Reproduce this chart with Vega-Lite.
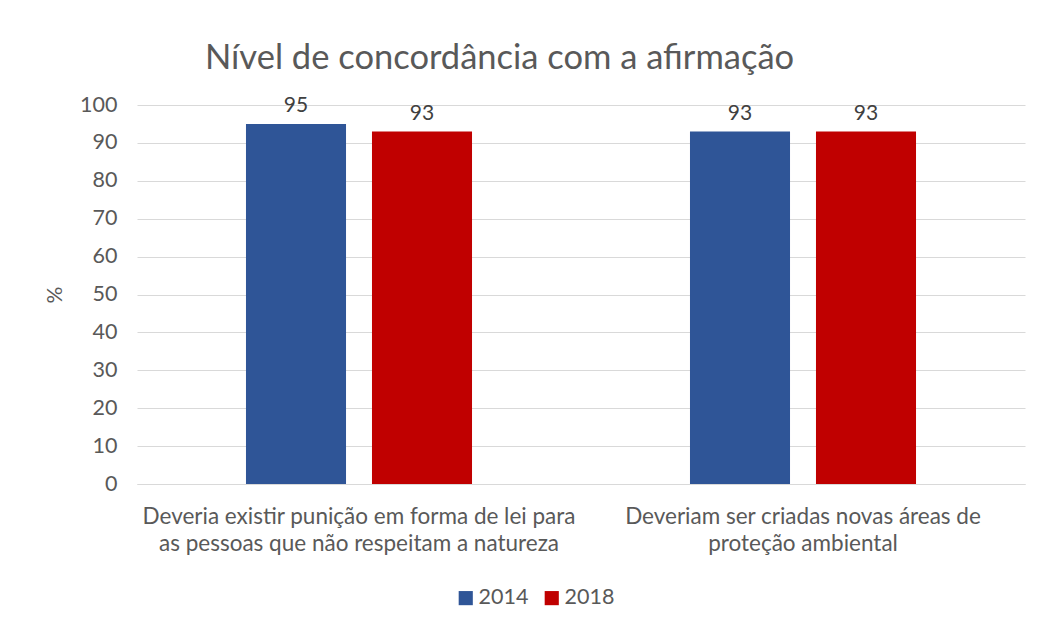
{
  "$schema": "https://vega.github.io/schema/vega-lite/v6.json",
  "autosize": {"type": "none"},
  "padding": {"left": 137, "top": 105, "right": 26, "bottom": 148},
  "width": 888,
  "height": 379,
  "background": "white",
  "config": {
    "font": "Lato",
    "view": {"stroke": null},
    "text": {"font": "Lato"}
  },
  "title": {
    "text": "Nível de concordância com a afirmação",
    "anchor": "start",
    "frame": "group",
    "dx": 68,
    "offset": 18,
    "fontSize": 34.5,
    "fontWeight": "normal",
    "color": "#595959",
    "font": "Lato"
  },
  "data": {
    "values": [
      {"categoria": "A", "ano": "2014", "valor": 95},
      {"categoria": "A", "ano": "2018", "valor": 93},
      {"categoria": "B", "ano": "2014", "valor": 93},
      {"categoria": "B", "ano": "2018", "valor": 93}
    ]
  },
  "encoding": {
    "x": {
      "field": "categoria",
      "type": "nominal",
      "scale": {"paddingInner": 0, "paddingOuter": 0},
      "axis": {
        "title": null,
        "labelAngle": 0,
        "ticks": false,
        "domainColor": "#d9d9d9",
        "labelFontSize": 22.5,
        "labelColor": "#595959",
        "labelPadding": 21,
        "labelLineHeight": 27,
        "labelLimit": 0,
        "labelFont": "Lato",
        "labelExpr": "datum.value == 'A' ? ['Deveria existir punição em forma de lei para', 'as pessoas que não respeitam a natureza'] : ['Deveriam ser criadas novas áreas de', 'proteção ambiental']"
      }
    },
    "xOffset": {
      "field": "ano",
      "type": "nominal",
      "scale": {"paddingInner": 0.206, "paddingOuter": 0.865}
    },
    "y": {
      "field": "valor",
      "type": "quantitative",
      "scale": {"domain": [0, 100]},
      "axis": {
        "title": "%",
        "titleFontSize": 21,
        "titleFontWeight": "normal",
        "titleColor": "#595959",
        "titlePadding": 14,
        "values": [0, 10, 20, 30, 40, 50, 60, 70, 80, 90, 100],
        "ticks": false,
        "domain": false,
        "gridColor": "#d9d9d9",
        "labelFontSize": 21.5,
        "labelColor": "#595959",
        "labelPadding": 20,
        "labelFont": "Lato"
      }
    }
  },
  "layer": [
    {
      "mark": {"type": "bar"},
      "encoding": {
        "color": {
          "field": "ano",
          "type": "nominal",
          "scale": {"domain": ["2014", "2018"], "range": ["#2F5597", "#C00000"]},
          "legend": {
            "title": null,
            "orient": "none",
            "direction": "horizontal",
            "legendX": 318,
            "legendY": 482,
            "symbolType": "square",
            "symbolSize": 200,
            "symbolStrokeWidth": 0,
            "labelFontSize": 21.5,
            "labelColor": "#595959",
            "labelFont": "Lato",
            "labelOffset": 2,
            "columnPadding": 12
          }
        }
      }
    },
    {
      "mark": {"type": "text", "baseline": "bottom", "dy": -8, "fontSize": 21, "color": "#404040"},
      "encoding": {
        "text": {"field": "valor", "type": "quantitative"}
      }
    }
  ]
}
